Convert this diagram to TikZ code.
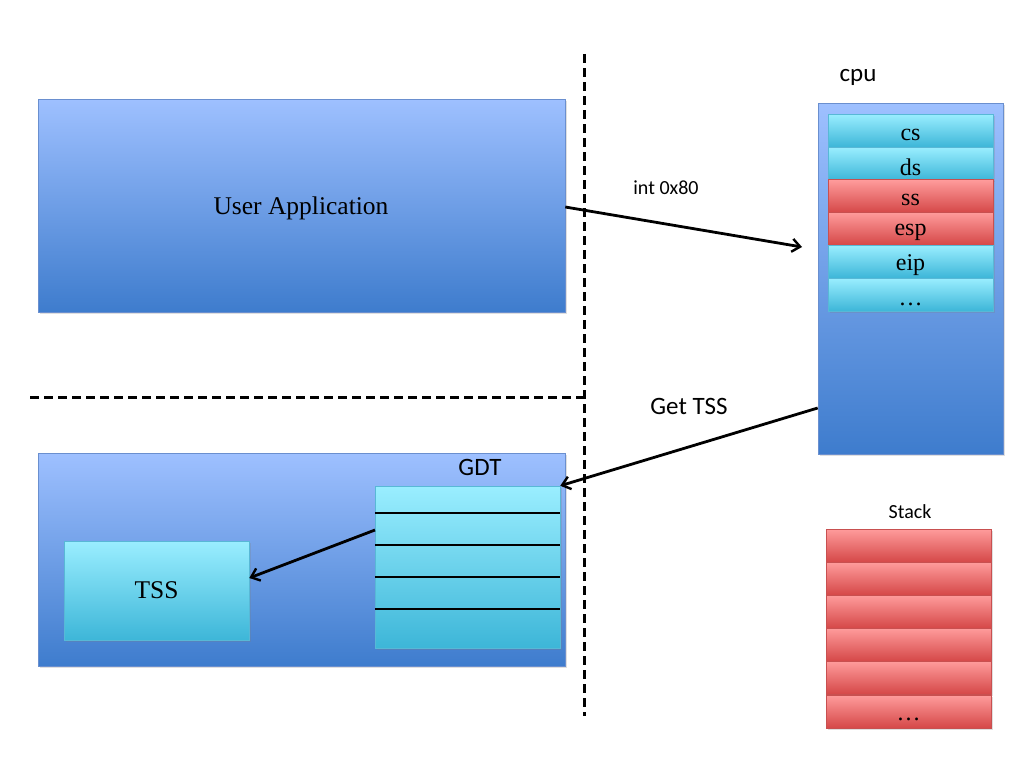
\documentclass[tikz,border=0pt]{standalone}
\usepackage{fontspec}
\setmainfont{Liberation Serif}
\newfontfamily\calibrifont{Carlito}
\usetikzlibrary{arrows.meta,shadows}
\definecolor{bluetop}{HTML}{9EC0FF}
\definecolor{bluebot}{HTML}{3E7CCD}
\definecolor{blueedge}{HTML}{6A8FCF}
\definecolor{cyantop}{HTML}{9AEEFF}
\definecolor{cyanbot}{HTML}{3DB6D8}
\definecolor{cyanedge}{HTML}{58B8D6}
\definecolor{redtop}{HTML}{FF9C9C}
\definecolor{redbot}{HTML}{D54848}
\definecolor{rededge}{HTML}{C85050}
\tikzset{
  panel/.style={draw=blueedge, line width=0.6pt, top color=bluetop, bottom color=bluebot, drop shadow={opacity=0.25,shadow xshift=1.5pt,shadow yshift=-1.5pt}},
  cyanbox/.style={draw=cyanedge, line width=0.5pt, top color=cyantop, bottom color=cyanbot, drop shadow={opacity=0.25,shadow xshift=1.5pt,shadow yshift=-1.5pt}},
  redbox/.style={draw=rededge, line width=0.5pt, top color=redtop, bottom color=redbot, drop shadow={opacity=0.25,shadow xshift=1.5pt,shadow yshift=-1.5pt}},
  reg/.style={font=\fontsize{24}{26}\selectfont, anchor=center},
  arr/.style={-{Straight Barb[length=8pt,width=13pt,line width=2.4pt]}, line width=2.8pt},
  divider/.style={dash pattern=on 9pt off 5pt, line width=3pt},
  lab/.style={font=\calibrifont\fontsize{20}{22}\selectfont},
  biglab/.style={font=\calibrifont\fontsize{25}{27}\selectfont}
}
\begin{document}
\begin{tikzpicture}[x=1pt,y=-1pt]
\useasboundingbox (0,0) rectangle (1024,768);
% dividers
\draw[divider] (584,54) -- (584,716);
\draw[divider] (30,397) -- (584,397);
% user application
\node[panel, minimum width=527pt, minimum height=213pt, inner sep=0pt] (user) at (301.5,205.5) {};
\node[font=\fontsize{25.5}{27}\selectfont] (usertxt) at (301,208) {User Application};
% cpu
\node[biglab] (cpulab) at (858,77) {cpu};
\node[panel, minimum width=185pt, minimum height=351pt, inner sep=0pt] (cpu) at (910.5,278.5) {};
\foreach \n/\y/\s in {cs/130.5/cyanbox, ds/163.5/cyanbox, ss/196/redbox, esp/228.5/redbox, eip/261.5/cyanbox, more/294.5/cyanbox}{
  \node[\s, minimum width=165pt, minimum height=33pt, inner sep=0pt] (\n) at (910.5,\y) {};
}
\node[reg] at ([yshift=-4pt]cs.center) {cs};
\node[reg] at ([yshift=-4pt]ds.center) {ds};
\node[reg] at ([yshift=-4pt]ss.center) {ss};
\node[reg] at ([yshift=-4pt]esp.center) {esp};
\node[reg] at ([yshift=-4pt]eip.center) {eip};
\node[reg] at ([yshift=-10pt]more.center) {\dots};
% int 0x80 arrow
\coordinate (intend) at (802,247);
\draw[arr] (user.east |- 0,207) -- (intend);
\node[lab] (intlab) at (666,188) {int 0x80};
% lower panel
\node[panel, minimum width=527pt, minimum height=213pt, inner sep=0pt] (kern) at (301.5,559.5) {};
\node[biglab] (gdtlab) at (480,467) {GDT};
\node[cyanbox, minimum width=185pt, minimum height=162pt, inner sep=0pt] (gdt) at (467.5,567) {};
\foreach \y in {513,545,577,609}{
  \draw[line width=2.8pt] (gdt.west |- 0,\y) -- (gdt.east |- 0,\y);
}
\node[cyanbox, minimum width=185pt, minimum height=99pt, inner sep=0pt, font=\fontsize{25.5}{27}\selectfont] (tss) at (156.5,590.5) {TSS};
% Get TSS arrow
\draw[arr] (cpu.west |- 0,408) -- (gdt.north east);
\node[biglab] (getlab) at (689,406) {Get TSS};
% GDT to TSS
\coordinate (gdtsrc) at (375,530);
\draw[arr] (gdtsrc) -- (tss.east |- 0,578);
% stack
\node[lab] (stacklab) at (910,512) {Stack};
\foreach \i/\y in {1/545.5,2/578.5,3/611.5,4/644.5,5/677.5}{
  \node[redbox, minimum width=165pt, minimum height=33pt, inner sep=0pt] (st\i) at (908.5,\y) {};
}
\node[redbox, minimum width=165pt, minimum height=33pt, inner sep=0pt] (st6) at (908.5,711.5) {};
\node[reg] at ([yshift=-8pt]st6.center) {\dots};
\end{tikzpicture}
\end{document}
